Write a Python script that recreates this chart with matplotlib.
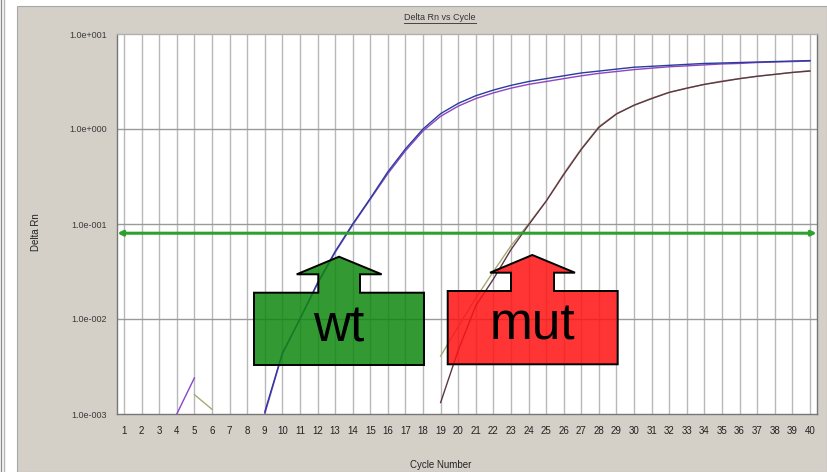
import numpy as np
import matplotlib
matplotlib.use("Agg")
import matplotlib.pyplot as plt
from matplotlib.patches import Polygon, Rectangle
from matplotlib.lines import Line2D
from matplotlib import transforms

nan = np.nan

# Cycle numbers
cycles = list(range(1, 41))
cycle_labels = [str(c) for c in cycles]

# Delta Rn per cycle (nan = not shown on the log scale)
wt_blue = [nan] * 8 + [0.00105, 0.00437, 0.0100, 0.0240, 0.0513, 0.100, 0.186, 0.355,
                       0.617, 1.00, 1.45, 1.86, 2.24, 2.57, 2.88, 3.16, 3.39, 3.63, 3.89,
                       4.07, 4.27, 4.47, 4.57, 4.68, 4.79, 4.90, 4.95, 5.01, 5.07, 5.13,
                       5.19, 5.25]
wt_purple = [nan, nan, nan, 0.00100, 0.0024, nan, nan, nan] + [
    0.00100, 0.00427, 0.0100, 0.0234, 0.0501, 0.0977, 0.182, 0.339, 0.589, 0.955,
    1.36, 1.74, 2.09, 2.40, 2.69, 2.95, 3.16, 3.39, 3.63, 3.85, 4.03, 4.22, 4.37,
    4.52, 4.62, 4.73, 4.84, 4.90, 5.01, 5.07, 5.13, 5.19]
mut_dark = [nan] * 18 + [0.00132, 0.00468, 0.0138, 0.0263, 0.0537, 0.0977, 0.174, 0.331,
                         0.610, 1.04, 1.44, 1.78, 2.09, 2.43, 2.69, 2.95, 3.16, 3.39,
                         3.59, 3.76, 3.94, 4.07]
mut_olive = [nan, nan, nan, nan, 0.0016, 0.00112] + [nan] * 12 + [
    0.00407, 0.00832, 0.0166, 0.0316, 0.0589, 0.100, 0.174, 0.339, 0.620, 1.06,
    1.45, 1.78, 2.11, 2.43, 2.69, 2.95, 3.20, 3.39, 3.59, 3.76, 3.94, 4.12]

threshold = 0.08

y_ticks = [1e-3, 1e-2, 1e-1, 1e0, 1e1]
y_labels = ["1.0e-003", "1.0e-002", "1.0e-001", "1.0e+000", "1.0e+001"]

W, H = 827, 472
fig = plt.figure(figsize=(W / 100, H / 100), dpi=100)
fig.patch.set_facecolor("white")

# pixel coordinates (origin top-left) -> figure
pix = transforms.Affine2D().scale(1 / W, -1 / H).translate(0, 1) + fig.transFigure

# window panel (behind the axes)
fig.add_artist(Rectangle((17, 6), W - 17, H - 6, transform=pix, zorder=-10,
                         facecolor="#d4d0c8", edgecolor="#a8a8a8", lw=0.8))
fig.add_artist(Line2D([1, 1], [0, H], transform=pix, color="#8c8c8c", lw=1, zorder=-10))
fig.add_artist(Line2D([3.5, 3.5], [0, H], transform=pix, color="#b4b4b4", lw=1, zorder=-10))

ax = fig.add_axes([117 / W, 1 - 414 / H, 700 / W, 380 / H])
ax.set_facecolor("white")
ax.set_yscale("log")
ax.set_ylim(1e-3, 1e1)
ax.set_xlim(0.6, 40.4)

# grid
for c in cycles:
    ax.axvline(c, color="#b8b8b8", lw=1.0, zorder=1)
for yv in y_ticks[1:-1]:
    ax.axhline(yv, color="#9a9a9a", lw=1.0, zorder=1)

# curves
ax.plot(cycles, mut_olive, color="#a8a872", lw=1.0, zorder=3)
ax.plot(cycles, mut_dark, color="#5e3448", lw=1.0, zorder=3)
ax.plot(cycles, wt_purple, color="#8a44c4", lw=1.0, zorder=3)
ax.plot(cycles, wt_blue, color="#2a3c9c", lw=1.0, zorder=4)

# threshold line
ax.annotate("", xy=(0.62, threshold), xytext=(40.38, threshold),
            arrowprops=dict(arrowstyle="<|-|>", color="#2ea02e", lw=2.2,
                            mutation_scale=7, shrinkA=0, shrinkB=0), zorder=5)

ax.set_xticks(cycles)
ax.set_xticklabels(cycle_labels)
ax.set_yticks(y_ticks)
ax.set_yticklabels(y_labels)
ax.minorticks_off()
ax.tick_params(axis="x", length=0, pad=9, labelsize=7, labelcolor="#222222")
ax.tick_params(axis="y", length=0, pad=7, labelsize=6.5, labelcolor="#3a3a3a")
for lab in ax.get_xticklabels() + ax.get_yticklabels():
    lab.set_family("Liberation Sans")
for s in ax.spines.values():
    s.set_color("#767676")
    s.set_linewidth(1.0)
ax.spines["top"].set_color("#b0b0b0")

# titles
t = fig.text(440 / W, 1 - 17 / H, "Delta Rn vs Cycle", ha="center", va="center",
             fontsize=6.5, color="#333333", family="Liberation Sans")
fig.text(441 / W, 1 - 465 / H, "Cycle Number", ha="center", va="center",
         fontsize=7, color="#222222", family="Liberation Sans")
fig.text(36 / W, 1 - 232 / H, "Delta Rn", ha="center", va="center", rotation=90,
         fontsize=7, color="#222222", family="Liberation Sans")

# underline the title
fig.canvas.draw()
bb = t.get_window_extent(fig.canvas.get_renderer())
fig.add_artist(Line2D([bb.x0, bb.x1], [bb.y0 - 1, bb.y0 - 1], transform=None,
                      color="#444444", lw=0.7))

# block arrows (semi transparent, the grid and curves show through)
wt_shape = [(254, 365), (254, 292.7), (318.3, 292.7), (318.3, 274.3), (296.7, 274.3),
            (339, 256.7), (381.7, 274.3), (360, 274.3), (360, 292.7), (424, 292.7),
            (424, 365)]
mut_shape = [(447.7, 364.3), (447.7, 291), (511, 291), (511, 272.7), (490, 272.7),
             (532.3, 255), (575, 272.7), (554, 272.7), (554, 291), (617.7, 291),
             (617.7, 364.3)]
fig.add_artist(Polygon(wt_shape, closed=True, transform=pix, zorder=5,
                       facecolor=(0.06, 0.53, 0.06, 0.85), edgecolor="black", lw=1.4))
fig.add_artist(Polygon(mut_shape, closed=True, transform=pix, zorder=5,
                       facecolor=(1.0, 0.07, 0.07, 0.85), edgecolor="black", lw=1.4))
fig.text(339 / W, 1 - 328 / H, "wt", ha="center", va="center", fontsize=37,
         family="Liberation Sans", color="black", zorder=6)
fig.text(532 / W, 1 - 326 / H, "mut", ha="center", va="center", fontsize=37,
         family="Liberation Sans", color="black", zorder=6)

plt.savefig("out.png", dpi=100)
